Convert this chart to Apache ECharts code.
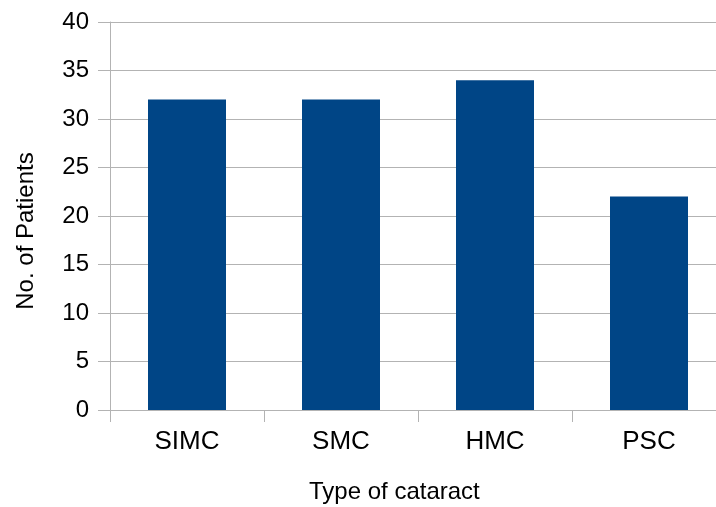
<!DOCTYPE html>
<html>
<head>
<meta charset="utf-8">
<script src="https://cdn.jsdelivr.net/npm/echarts@6/dist/echarts.min.js"></script>
<style>html,body{margin:0;padding:0;background:#fff;overflow:hidden}#c{width:726px;height:507px}</style>
</head>
<body>
<div id="c"></div>
<script>
var categories = ["SIMC", "SMC", "HMC", "PSC"];
var patients = [32, 32, 34, 22];
var yTicks = [0, 5, 10, 15, 20, 25, 30, 35, 40];
var xTitle = "Type of cataract";
var yTitle = "No. of Patients";

var chart = echarts.init(document.getElementById('c'), null, {renderer: 'canvas'});
var font = '"Liberation Sans", Arial, sans-serif';
chart.setOption({
  animation: false,
  grid: {left: 110, right: 0, top: 22, bottom: 97, containLabel: false},
  xAxis: {
    type: 'category',
    data: categories,
    axisLine: {show: true, lineStyle: {color: '#b3b3b3', width: 1}},
    axisTick: {show: true, length: 12, alignWithLabel: false, lineStyle: {color: '#b3b3b3'}},
    axisLabel: {color: '#000', fontSize: 26, fontFamily: font, margin: 19}
  },
  yAxis: {
    type: 'value',
    min: yTicks[0], max: yTicks[yTicks.length - 1], interval: 5,
    axisLine: {show: true, lineStyle: {color: '#b3b3b3', width: 1}},
    axisTick: {show: true, length: 12, lineStyle: {color: '#b3b3b3'}},
    splitLine: {show: true, lineStyle: {color: '#b3b3b3', width: 1}},
    axisLabel: {color: '#000', fontSize: 24, fontFamily: font, margin: 21}
  },
  series: [{
    type: 'bar',
    data: patients,
    barWidth: 78,
    itemStyle: {color: '#004586'}
  }],
  graphic: [
    {type: 'text', left: 309, top: 480,
     style: {text: xTitle, fill: '#000', font: '24px ' + font}},
    {type: 'text', x: 14, y: 231, rotation: Math.PI / 2,
     style: {text: yTitle, fill: '#000', font: '24px ' + font, align: 'center', verticalAlign: 'top'}}
  ]
});
</script>
</body>
</html>
